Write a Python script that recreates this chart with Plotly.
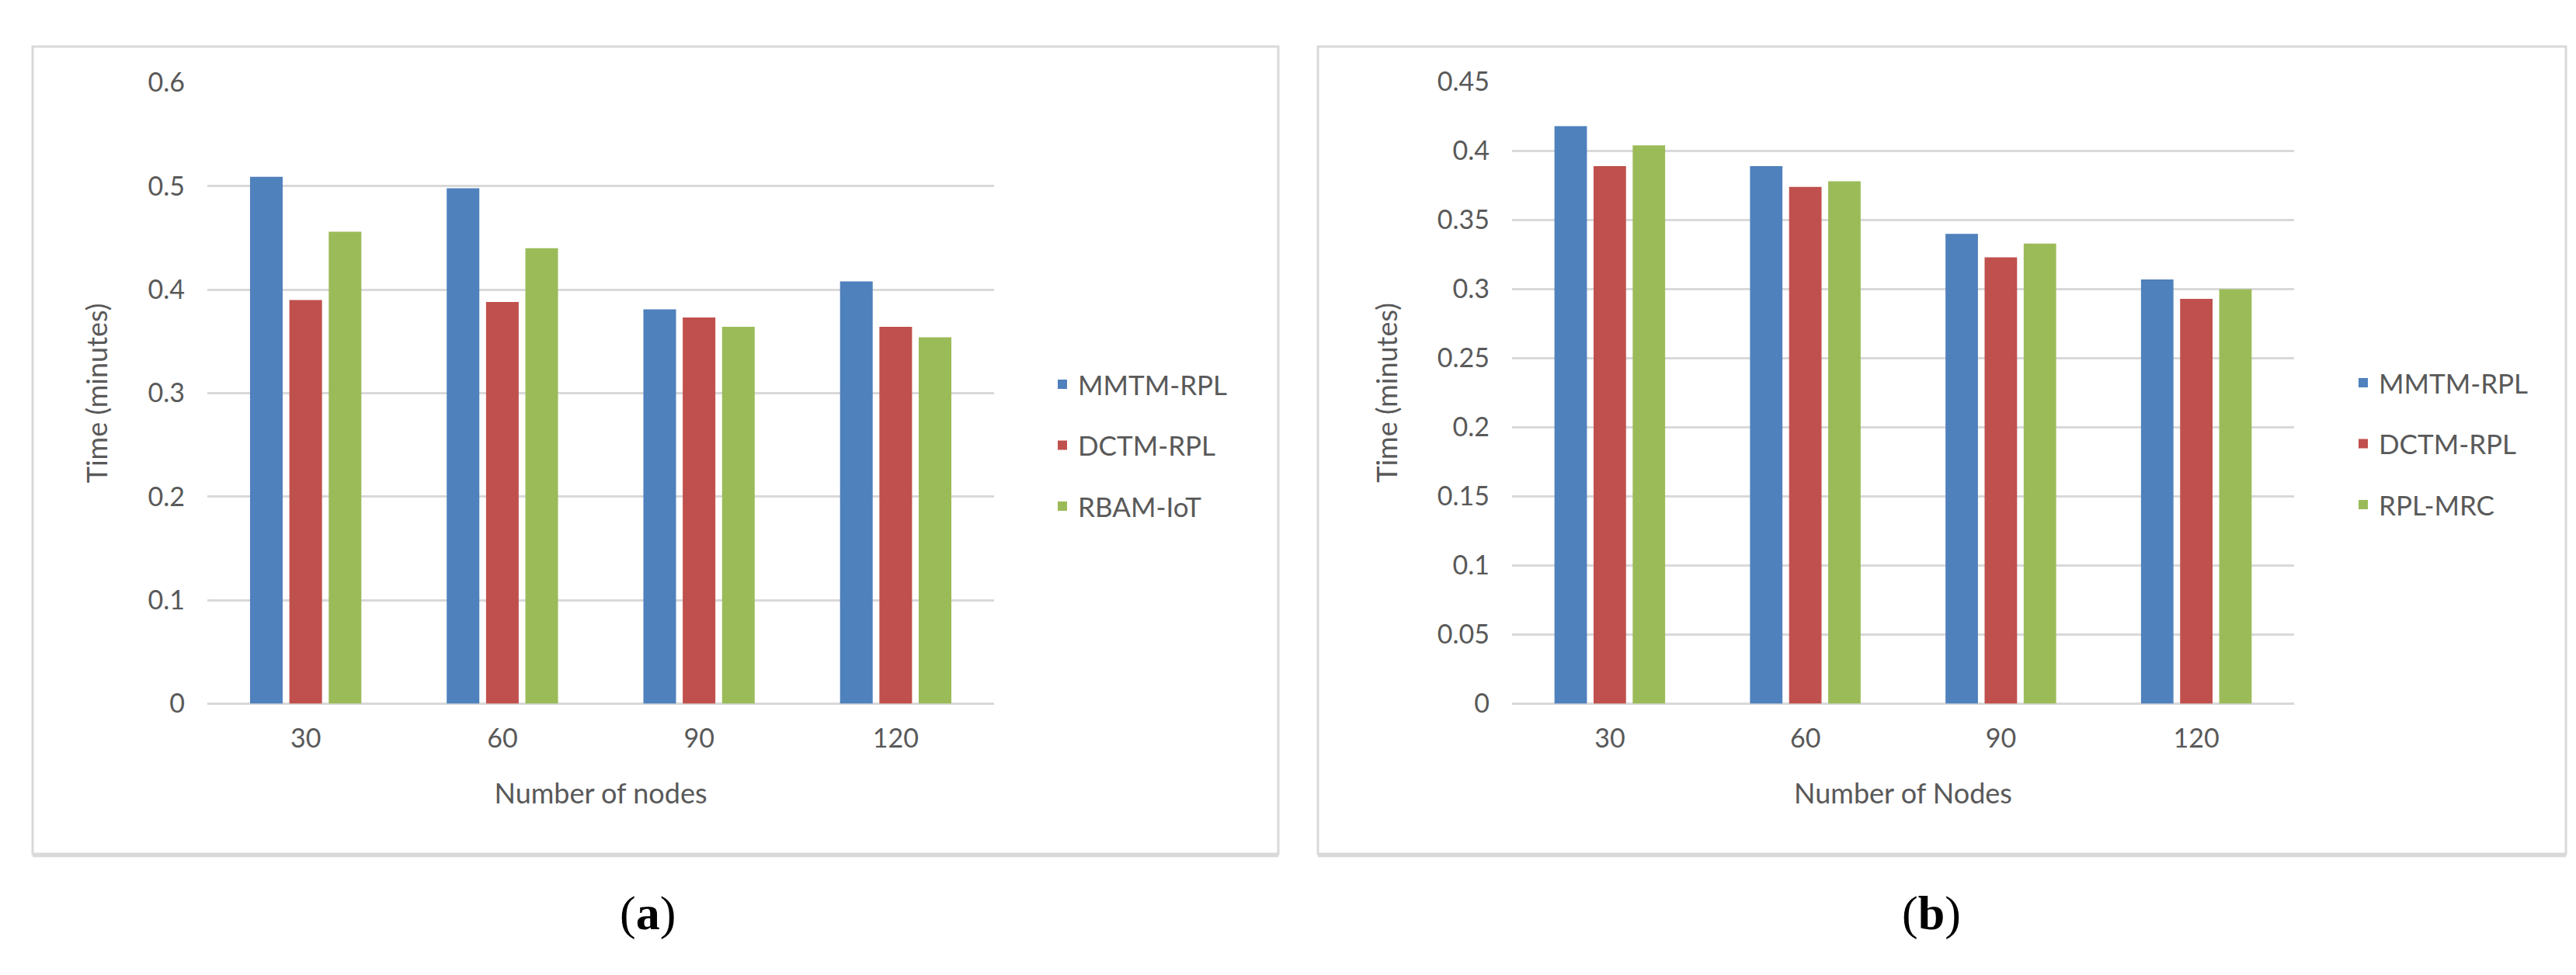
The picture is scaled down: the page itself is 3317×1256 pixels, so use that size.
import plotly.graph_objects as go

W, H = 3317, 1256

nodes = ["30", "60", "90", "120"]

# Panel (a)
a_series = ["MMTM-RPL", "DCTM-RPL", "RBAM-IoT"]
a_mmtm = [0.509, 0.498, 0.381, 0.408]
a_dctm = [0.390, 0.388, 0.373, 0.364]
a_rbam = [0.456, 0.440, 0.364, 0.354]

# Panel (b)
b_series = ["MMTM-RPL", "DCTM-RPL", "RPL-MRC"]
b_mmtm = [0.418, 0.389, 0.340, 0.307]
b_dctm = [0.389, 0.374, 0.323, 0.293]
b_rplm = [0.404, 0.378, 0.333, 0.300]

a_ticks = [0, 0.1, 0.2, 0.3, 0.4, 0.5, 0.6]
b_ticks = [0, 0.05, 0.1, 0.15, 0.2, 0.25, 0.3, 0.35, 0.4, 0.45]

colors = ["#4F81BD", "#C0504D", "#9BBB59"]
TXT = "#595959"
GRID = "#D9D9D9"
FONT = "Lato, Carlito, 'Open Sans', sans-serif"

fig = go.Figure()

for name, vals, c in zip(a_series, [a_mmtm, a_dctm, a_rbam], colors):
    fig.add_trace(go.Bar(x=nodes, y=vals, name=name, marker=dict(color=c, line=dict(width=0)),
                         xaxis="x", yaxis="y", legend="legend", legendgroup="a" + name))
for name, vals, c in zip(b_series, [b_mmtm, b_dctm, b_rplm], colors):
    fig.add_trace(go.Bar(x=nodes, y=vals, name=name, marker=dict(color=c, line=dict(width=0)),
                         xaxis="x2", yaxis="y2", legend="legend2", legendgroup="b" + name))

def px_x(p):
    return p / W

def px_y(p):
    return 1 - p / H

axfont = dict(family=FONT, size=34, color=TXT)
titlefont = dict(family=FONT, size=36, color=TXT)

xcommon = dict(type="category", showgrid=False, showline=False, ticks="", tickfont=axfont,
               ticklabelstandoff=22, fixedrange=True)
ycommon = dict(showgrid=True, gridcolor=GRID, gridwidth=3, zeroline=True, zerolinecolor=GRID,
               zerolinewidth=3, showline=False, ticks="", tickfont=axfont, ticklabelstandoff=28)

fig.update_layout(
    width=W, height=H,
    margin=dict(l=0, r=0, t=0, b=0),
    paper_bgcolor="white", plot_bgcolor="white",
    barmode="group", bargap=0.4, bargroupgap=0.17,
    xaxis=dict(domain=[px_x(259), px_x(1272)], anchor="y",
               title=dict(text="Number of nodes", font=titlefont, standoff=40), **xcommon),
    yaxis=dict(domain=[px_y(906), px_y(79)], anchor="x", range=[0, 0.6],
               tickvals=a_ticks, ticktext=[str(t) for t in a_ticks],
               title=dict(text="Time (minutes)", font=titlefont, standoff=40), **ycommon),
    xaxis2=dict(domain=[px_x(1939), px_x(2946)], anchor="y2",
                title=dict(text="Number of Nodes", font=titlefont, standoff=40), **xcommon),
    yaxis2=dict(domain=[px_y(906), px_y(78)], anchor="x2", range=[0, 0.45],
                tickvals=b_ticks, ticktext=[str(t) for t in b_ticks],
                title=dict(text="Time (minutes)", font=titlefont, standoff=40), **ycommon),
    legend=dict(x=px_x(1340), y=px_y(562), xanchor="left", yanchor="middle",
                font=dict(family=FONT, size=35, color=TXT), tracegroupgap=30,
                bgcolor="rgba(0,0,0,0)", itemclick=False),
    legend2=dict(x=px_x(3015), y=px_y(560), xanchor="left", yanchor="middle",
                 font=dict(family=FONT, size=35, color=TXT), tracegroupgap=30,
                 bgcolor="rgba(0,0,0,0)", itemclick=False),
    showlegend=True,
)

# panel frames
for x0, x1 in [(34, 1638), (1689, 3296)]:
    fig.add_shape(type="rect", xref="paper", yref="paper",
                  x0=px_x(x0), x1=px_x(x1), y0=px_y(1106), y1=px_y(31),
                  line=dict(color=GRID, width=3), fillcolor="rgba(0,0,0,0)", layer="below")
    fig.add_shape(type="line", xref="paper", yref="paper",
                  x0=px_x(x0), x1=px_x(x1), y0=px_y(1108), y1=px_y(1108),
                  line=dict(color=GRID, width=5), layer="below")

# sub-figure labels
for lab, xc in [("a", 826), ("b", 2479)]:
    fig.add_annotation(text="(<b>%s</b>)" % lab, xref="paper", yref="paper",
                       x=px_x(xc), y=px_y(1185), xanchor="center", yanchor="middle",
                       showarrow=False,
                       font=dict(family="'Liberation Serif', 'DejaVu Serif', serif", size=62, color="black"))

fig.write_html("out.html")
